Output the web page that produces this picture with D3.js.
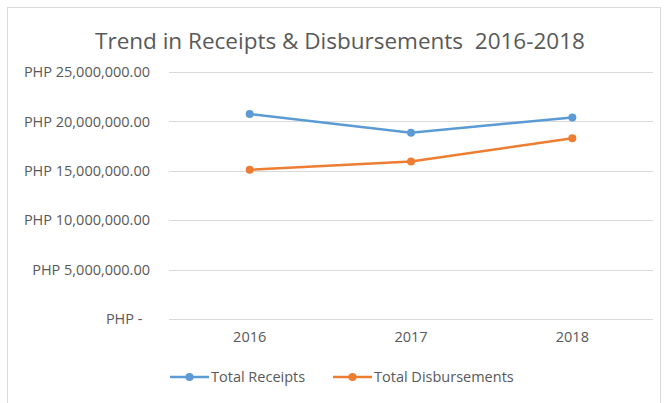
<!DOCTYPE html>
<html>
<head>
<meta charset="utf-8">
<script src="https://cdn.jsdelivr.net/npm/d3@7"></script>
<style>
  body { margin: 0; background: #fff; }
  text { font-family: "Open Sans", "Liberation Sans", sans-serif; fill: #595959; }
</style>
</head>
<body>
<div id="chart"></div>
<script>
// Data
var years = ["2016", "2017", "2018"]
var receipts = [20750000, 18850000, 20400000]
var disbursements = [15100000, 15950000, 18300000]
var yTicks = [0, 5000000, 10000000, 15000000, 20000000, 25000000]
var seriesNames = ["Total Receipts", "Total Disbursements"]

var width = 664
var height = 403
var color = ["#5B9BD5", "#ED7D31"]

var svg = d3.select('#chart')
    .append('svg')
    .attr('width', width)
    .attr('height', height)

// chart area border
svg.append('rect')
    .attr('x', 7.5).attr('y', 7.5)
    .attr('width', 653).attr('height', 400)
    .attr('fill', 'none')
    .attr('stroke', '#d9d9d9')

// Title
svg.append('text')
    .attr('x', 340)
    .attr('y', 49)
    .attr('text-anchor', 'middle')
    .style('font-size', '22.5px')
    .style('white-space', 'pre')
    .text("Trend in Receipts & Disbursements  2016-2018")

var xScale = d3.scaleBand()
    .domain(years)
    .range([169, 653])

var yScale = d3.scaleLinear()
    .domain([0, 25000000])
    .range([319, 72])

var fmt = d3.format(",.2f")

// Gridlines
svg.append('g')
    .selectAll('line')
    .data(yTicks)
    .join('line')
    .attr('x1', 169).attr('x2', 653)
    .attr('y1', d => Math.round(yScale(d)) + 0.5)
    .attr('y2', d => Math.round(yScale(d)) + 0.5)
    .attr('stroke', '#d9d9d9')
    .attr('stroke-width', 1)

// Y axis labels
var yAxis = d3.axisLeft(yScale)
    .tickValues(yTicks)
    .tickSize(0)
    .tickPadding(19)
    .tickFormat(d => d === 0 ? "PHP -  " : "PHP " + fmt(d))
var yG = svg.append('g')
    .attr('transform', 'translate(169,0)')
    .call(yAxis)
yG.select('.domain').remove()
yG.selectAll('text')
    .style('font-size', '14.5px')
    .style('white-space', 'pre')
    .attr('fill', '#595959')

// X axis labels
var xAxis = d3.axisBottom(xScale).tickSize(0).tickPadding(13)
var xG = svg.append('g')
    .attr('transform', 'translate(0,319)')
    .call(xAxis)
xG.select('.domain').remove()
xG.selectAll('text')
    .style('font-size', '14.5px')
    .attr('fill', '#595959')

// Lines
var cx = d => xScale(d) + xScale.bandwidth() / 2
var series = [receipts, disbursements]
var line = d3.line()
    .x((d, i) => cx(years[i]))
    .y(d => yScale(d))

series.forEach((s, k) => {
    svg.append('path')
        .datum(s)
        .attr('d', line)
        .attr('fill', 'none')
        .attr('stroke', color[k])
        .attr('stroke-width', 2.5)
        .attr('stroke-linecap', 'round')
    svg.append('g')
        .selectAll('circle')
        .data(s)
        .join('circle')
        .attr('cx', (d, i) => cx(years[i]))
        .attr('cy', d => yScale(d))
        .attr('r', 4)
        .attr('fill', color[k])
})

// Legend
var legendX = [170, 333]
seriesNames.forEach((name, k) => {
    var g = svg.append('g')
        .attr('transform', `translate(${legendX[k]}, 377)`)
    g.append('line')
        .attr('x1', 0).attr('x2', 39)
        .attr('y1', 0).attr('y2', 0)
        .attr('stroke', color[k])
        .attr('stroke-width', 2.5)
    g.append('circle')
        .attr('cx', 19.5).attr('cy', 0).attr('r', 4)
        .attr('fill', color[k])
    g.append('text')
        .attr('x', 41)
        .attr('y', 5)
        .style('font-size', '14.5px')
        .text(name)
})
</script>
</body>
</html>
